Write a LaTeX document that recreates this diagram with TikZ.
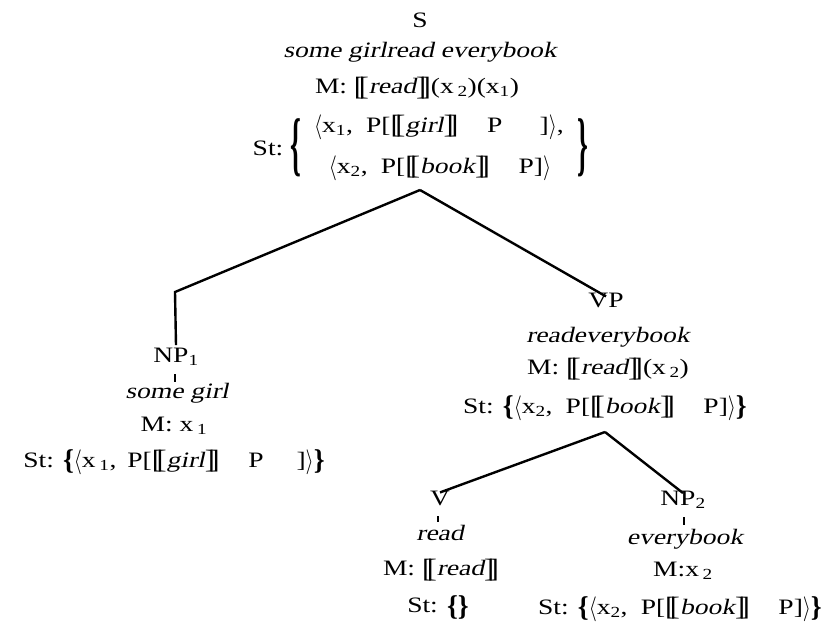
\documentclass[tikz,border=0pt]{standalone}
\usepackage{fontspec}
\setmainfont{Liberation Serif}[ItalicFont={Liberation Serif},ItalicFeatures={FakeSlant=0.22},BoldFont={Liberation Serif Bold},FakeStretch=1.25]
\newcommand\mysub[1]{\textsubscript{#1}}
\newcommand\dbl[1]{\scalebox{1.1}[1.2]{#1\kern-.22em#1}}
\newcommand\sem[1]{\mbox{\raisebox{-.08em}{\dbl{[}}\textit{#1}\raisebox{-.08em}{\dbl{]}}}}
\newcommand\ital[1]{{\itshape #1}}
\newcommand\lbr{\raisebox{-.12em}{\scalebox{1}[1.3]{\bfseries\{}}}
\newcommand\rbr{\raisebox{-.12em}{\scalebox{1}[1.3]{\bfseries\}}}}
\newcommand\lang{\raisebox{-.05em}{\scalebox{1}[1.2]{$\langle$}}}
\newcommand\rang{\raisebox{-.05em}{\scalebox{1}[1.2]{$\rangle$}}}
\begin{document}
\begin{tikzpicture}[x=1pt,y=-1pt,
  every node/.style={font=\fontsize{22}{26}\selectfont, inner sep=0pt},
  branch/.style={line width=2.4pt},
  tick/.style={line width=2pt}]
\useasboundingbox (0,0) rectangle (830,630);
% top block
\node (S) at (420,20) {S};
\node (Sw) at (420,52) {\ital{some girlread everybook}};
\node (Sm) at (417,88) {M: \sem{read}(x\,\mysub{2})(x\mysub{1})};
\node (Sst) at (268,148) {St:};
\node (Slb) at (296,148) {\scalebox{1}[3.2]{\bfseries\{}};
\node (Sl1) at (439,127) {\lang x\mysub{1},\hspace{0.6em}P[\sem{girl}\hspace{1.3em}P\hspace{1.7em}]\rang,};
\node (Sl2) at (440,168) {\lang x\mysub{2},\hspace{0.6em}P[\sem{book}\hspace{1.3em}P]\rang};
\node (Srb) at (583,148) {\scalebox{1}[3.2]{\bfseries\}}};
\coordinate (Sa) at (420,190);
\coordinate (Lc) at (175,292);
% NP1
\node (NP1) at (176,357) {NP\mysub{1}};
\node (NP1w) at (177,393) {\ital{some girl}};
\node (NP1m) at (174,426) {M: x\,\mysub{1}};
\node (NP1s) at (174,462) {St: \lbr\lang x\,\mysub{1},\hspace{.5em}P[\sem{girl}\hspace{1.3em}P\hspace{1.5em}]\rang\rbr};
\coordinate (t1a) at (175,374);
\coordinate (t1b) at (175,382);
% VP
\node (VP) at (606,300) {VP};
\node (VPw) at (608,337) {\ital{readeverybook}};
\node (VPm) at (608,369) {M: \sem{read}(x\,\mysub{2})};
\node (VPs) at (605,408) {St: \lbr\lang x\mysub{2},\hspace{.6em}P[\sem{book}\hspace{1.3em}P]\rang\rbr};
\coordinate (VPa) at (605,432);
% V
\node (V) at (440,498) {V};
\node (Vw) at (440,533) {\ital{read}};
\node (Vm) at (441,570) {M: \sem{read}};
\node (Vs) at (438,607) {St: \lbr\rbr};
\coordinate (t2a) at (438,516);
\coordinate (t2b) at (438,522);
% NP2
\node (NP2) at (683,500) {NP\mysub{2}};
\node (NP2w) at (685,539) {\ital{everybook}};
\node (NP2m) at (683,571) {M:x\,\mysub{2}};
\node (NP2s) at (680,609) {St: \lbr\lang x\mysub{2},\hspace{.6em}P[\sem{book}\hspace{1.3em}P]\rang\rbr};
\coordinate (t3a) at (684,517);
\coordinate (t3b) at (684,525);
% branches
\draw[branch] (Sa) -- (Lc) -- ([yshift=3pt]NP1.north);
\draw[branch] (Sa) -- ([yshift=-4pt]VP.north);
\draw[branch] (VPa) -- ([yshift=-2pt]V.north);
\draw[branch] (VPa) -- ([yshift=-2pt]NP2.north);
\draw[tick] (t1a) -- (t1b);
\draw[tick] (t2a) -- (t2b);
\draw[tick] (t3a) -- (t3b);
\end{tikzpicture}
\end{document}
